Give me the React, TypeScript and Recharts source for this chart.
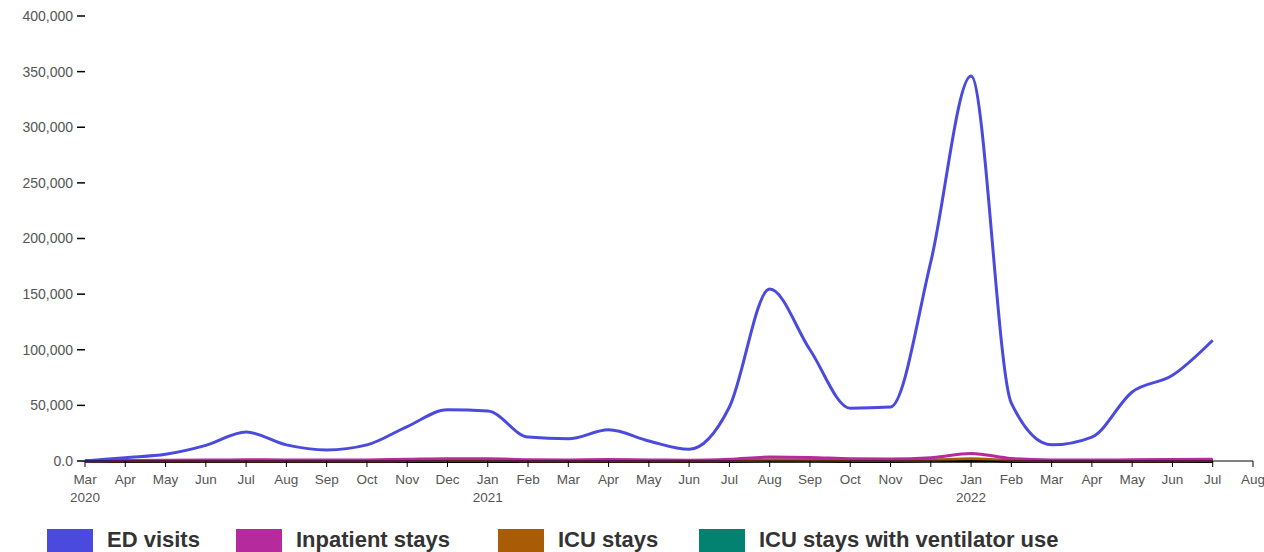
import React from 'react';
import { LineChart, Line, XAxis, YAxis } from 'recharts';

const months = ['Mar','Apr','May','Jun','Jul','Aug','Sep','Oct','Nov','Dec','Jan','Feb','Mar','Apr','May','Jun','Jul','Aug','Sep','Oct','Nov','Dec','Jan','Feb','Mar','Apr','May','Jun','Jul','Aug'];
const years: Record<number, string> = { 0: '2020', 10: '2021', 22: '2022' };

const edVisits = [0, 3000, 6000, 14000, 26000, 14500, 10000, 14500, 31000, 46000, 45000, 21500, 20000, 28000, 18000, 10500, 48500, 154500, 100000, 47500, 48500, 179000, 346000, 52000, 14500, 21500, 62000, 77000, 108500];
const inpatient = [200, 500, 600, 800, 1200, 900, 800, 1000, 1500, 2000, 2000, 1200, 1000, 1300, 1000, 700, 1500, 3500, 3200, 2000, 1800, 3000, 6800, 2200, 900, 800, 1100, 1300, 1500];
const icu = [50, 150, 150, 200, 300, 250, 200, 250, 350, 450, 450, 300, 250, 300, 250, 200, 350, 800, 700, 450, 400, 700, 2000, 500, 200, 200, 250, 300, 350];
const vent = [20, 60, 60, 80, 120, 100, 80, 100, 140, 180, 180, 120, 100, 120, 100, 80, 140, 300, 280, 180, 160, 250, 500, 200, 80, 80, 100, 120, 140];
const other = [10, 30, 30, 40, 60, 50, 40, 50, 70, 90, 90, 60, 50, 60, 50, 40, 70, 150, 140, 90, 80, 120, 250, 100, 40, 40, 50, 60, 70];
const yTicks = [0, 50000, 100000, 150000, 200000, 250000, 300000, 350000, 400000];

const data = edVisits.map((v, i) => ({ i, ed: v, inp: inpatient[i], icu: icu[i], vent: vent[i], other: other[i] }));
const xTicks = months.map((_, i) => i);

const legendItems = [
  { name: 'ED visits', color: '#4a4ade', left: 47 },
  { name: 'Inpatient stays', color: '#b52a9c', left: 236 },
  { name: 'ICU stays', color: '#a85c05', left: 498 },
  { name: 'ICU stays with ventilator use', color: '#038271', left: 699 },
];

const FONT = 'Liberation Sans, Arial, sans-serif';

const XTick = (props: any) => {
  const { x, y, payload } = props;
  const idx = payload.value;
  return (
    <g>
      <text x={x} y={y + 15} textAnchor="middle" fontSize={13.5} fill="#555" fontFamily={FONT}>{months[idx]}</text>
      {years[idx] && (
        <text x={x} y={y + 33} textAnchor="middle" fontSize={13.5} fill="#555" fontFamily={FONT}>{years[idx]}</text>
      )}
    </g>
  );
};

export default function App() {
  return (
    <div style={{ position: 'absolute', left: 0, top: 0, width: 1264, height: 552, background: '#fff', overflow: 'hidden', fontFamily: FONT }}>
      <LineChart width={1264} height={515} data={data} margin={{ top: 16, right: 11, left: 0, bottom: 10 }}>
        <XAxis
          dataKey="i"
          type="number"
          domain={[0, 29]}
          ticks={xTicks}
          interval={0}
          tick={<XTick />}
          tickSize={6}
          tickLine={{ stroke: '#000' }}
          axisLine={{ stroke: '#000' }}
          height={44}
        />
        <YAxis
          width={85}
          domain={[0, 400000]}
          ticks={yTicks}
          interval={0}
          axisLine={false}
          tickSize={8}
          tickMargin={4}
          tickLine={{ stroke: '#000', strokeWidth: 1.5 }}
          tick={{ fontSize: 14, fill: '#555', fontFamily: FONT }}
          tickFormatter={(v: number) => (v === 0 ? '0.0' : v.toLocaleString('en-US'))}
        />
        <Line type="monotone" dataKey="vent" stroke="#038271" strokeWidth={3} dot={false} isAnimationActive={false} />
        <Line type="monotone" dataKey="other" stroke="#000" strokeWidth={4} dot={false} isAnimationActive={false} />
        <Line type="monotone" dataKey="icu" stroke="#a85c05" strokeWidth={3} dot={false} isAnimationActive={false} />
        <Line type="monotone" dataKey="inp" stroke="#b52a9c" strokeWidth={3} dot={false} isAnimationActive={false} />
        <Line type="monotone" dataKey="ed" stroke="#4a4ade" strokeWidth={3} dot={false} isAnimationActive={false} />
      </LineChart>
      {legendItems.map((it) => (
        <div key={it.name} style={{ position: 'absolute', left: it.left, top: 529, display: 'flex', alignItems: 'flex-start' }}>
          <div style={{ width: 46, height: 23, background: it.color }} />
          <span style={{ marginLeft: 14, fontSize: 22, fontWeight: 'bold', color: '#333', lineHeight: '22px', whiteSpace: 'nowrap' }}>{it.name}</span>
        </div>
      ))}
    </div>
  );
}
